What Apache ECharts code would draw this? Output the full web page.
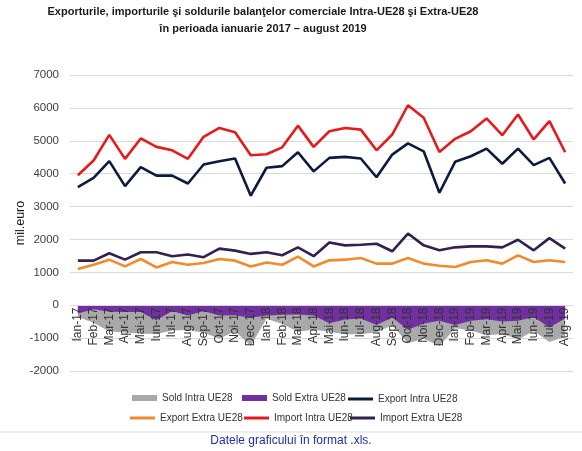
<!DOCTYPE html>
<html>
<head>
<meta charset="utf-8">
<script src="https://cdn.jsdelivr.net/npm/echarts@6/dist/echarts.min.js"></script>
<style>
  html, body { margin: 0; padding: 0; background: #fff; }
  #chart { width: 582px; height: 451px; }
</style>
</head>
<body>
<div id="chart"></div>
<script>
  // luni (etichete axa X)
  const months = ['Ian-17', 'Feb-17', 'Mar-17', 'Apr-17', 'Mai-17', 'Iun-17', 'Iul-17', 'Aug-17', 'Sep-17', 'Oct-17', 'Noi-17', 'Dec-17',
    'Ian-18', 'Feb-18', 'Mar-18', 'Apr-18', 'Mai-18', 'Iun-18', 'Iul-18', 'Aug-18', 'Sep-18', 'Oct-18', 'Noi-18', 'Dec-18',
    'Ian-19', 'Feb-19', 'Mar-19', 'Apr-19', 'Mai-19', 'Iun-19', 'Iul-19', 'Aug-19']

  const soldIntra = [-360, -530, -800, -830, -870, -875, -770, -750, -840, -1010, -800, -1230,
    -410, -570, -810, -745, -810, -880, -880, -820, -610, -1160, -1020, -1240,
    -700, -760, -920, -870, -1040, -780, -1120, -950]
  const soldExtra = [-255, -125, -195, -205, -205, -460, -175, -310, -175, -315, -305, -380,
    -310, -290, -280, -310, -545, -435, -405, -605, -375, -745, -555, -470,
    -600, -475, -425, -495, -475, -355, -675, -405]
  const exportIntra = [3590, 3870, 4380, 3620, 4200, 3940, 3940, 3700, 4280, 4380, 4460, 3330,
    4180, 4230, 4650, 4070, 4480, 4510, 4460, 3890, 4580, 4920, 4680, 3420,
    4360, 4530, 4760, 4300, 4760, 4260, 4480, 3700]
  const exportExtra = [1100, 1230, 1385, 1180, 1405, 1150, 1315, 1230, 1285, 1405, 1355, 1180,
    1300, 1230, 1480, 1180, 1365, 1385, 1435, 1265, 1265, 1435, 1265, 1200,
    1160, 1315, 1365, 1265, 1515, 1315, 1365, 1315]
  const importIntra = [3950, 4400, 5180, 4450, 5070, 4815, 4710, 4450, 5120, 5390, 5260, 4560,
    4590, 4800, 5460, 4815, 5290, 5390, 5340, 4710, 5190, 6080, 5700, 4660,
    5060, 5290, 5680, 5170, 5800, 5040, 5600, 4650]
  const importExtra = [1355, 1355, 1580, 1385, 1610, 1610, 1490, 1540, 1460, 1720, 1660, 1560,
    1610, 1520, 1760, 1490, 1910, 1820, 1840, 1870, 1640, 2180, 1820, 1670,
    1760, 1790, 1790, 1760, 1990, 1670, 2040, 1720]

  const font = 'Liberation Sans, Arial, sans-serif'
  const chart = echarts.init(document.getElementById('chart'))

  function lineSeries(name, data, color) {
    return {
      name: name,
      type: 'line',
      data: data,
      showSymbol: false,
      symbol: 'none',
      lineStyle: { color: color, width: 2.6 },
      itemStyle: { color: color },
      z: 3
    }
  }
  function areaSeries(name, data, color) {
    return {
      name: name,
      type: 'line',
      data: data,
      showSymbol: false,
      symbol: 'none',
      lineStyle: { width: 0 },
      itemStyle: { color: color },
      areaStyle: { color: color, opacity: 1 },
      z: 2
    }
  }
  function legendAt(name, left, top, isArea) {
    return {
      data: [name],
      left: left,
      top: top,
      icon: 'rect',
      itemWidth: 25,
      itemHeight: isArea ? 6 : 3,
      itemGap: 0,
      padding: 0,
      selectedMode: false,
      textStyle: { fontFamily: font, fontSize: 10, color: '#333' }
    }
  }

  chart.setOption({
    animation: false,
    title: {
      text: 'Exporturile, importurile şi soldurile balanţelor comerciale Intra-UE28 şi Extra-UE28\nîn perioada ianuarie 2017 – august 2019',
      left: 263,
      textAlign: 'center',
      top: 3,
      padding: 0,
      textStyle: { fontFamily: font, fontSize: 11, fontWeight: 'bold', color: '#1a1a1a', lineHeight: 17 }
    },
    legend: [
      legendAt('Sold Intra UE28', 132, 393, true),
      legendAt('Sold Extra UE28', 242, 393, true),
      legendAt('Export Intra UE28', 348, 394, false),
      legendAt('Export Extra UE28', 130, 413, false),
      legendAt('Import Intra UE28', 244, 413, false),
      legendAt('Import Extra UE28', 350, 413, false)
    ],
    grid: { left: 70, right: 9, top: 75, bottom: 80 },
    xAxis: {
      type: 'category',
      data: months,
      boundaryGap: true,
      offset: -65.5,
      z: 5,
      axisLine: { onZero: false, lineStyle: { color: '#d9d9d9' } },
      axisTick: { show: false },
      axisLabel: { rotate: 90, interval: 0, fontFamily: font, fontSize: 12, color: '#333', margin: 2 }
    },
    yAxis: {
      type: 'value',
      min: -2000,
      max: 7000,
      interval: 1000,
      name: 'mil.euro',
      nameLocation: 'middle',
      nameGap: 43,
      nameMoveOverlap: false,
      nameTextStyle: { fontFamily: font, fontSize: 12.5, color: '#1a1a1a' },
      axisLine: { show: false },
      axisTick: { show: false },
      axisLabel: { fontFamily: font, fontSize: 11.5, color: '#404040', margin: 11, formatter: function (v) { return String(v) } },
      splitLine: { lineStyle: { color: '#d9d9d9', width: 1 } }
    },
    series: [
      areaSeries('Sold Intra UE28', soldIntra, '#a9a9a9'),
      areaSeries('Sold Extra UE28', soldExtra, '#7030a0'),
      lineSeries('Export Intra UE28', exportIntra, '#0c1a3d'),
      lineSeries('Export Extra UE28', exportExtra, '#f08a2c'),
      lineSeries('Import Intra UE28', importIntra, '#e41a1c'),
      lineSeries('Import Extra UE28', importExtra, '#33204f')
    ],
    graphic: [
      {
        type: 'line',
        shape: { x1: 0, y1: 432, x2: 582, y2: 432 },
        style: { stroke: '#dddddd', lineWidth: 1 }
      },
      {
        type: 'text',
        left: 'center',
        top: 435,
        style: { text: 'Datele graficului în format .xls.', fill: '#1f2fa6', font: '12px ' + font }
      }
    ]
  })
</script>
</body>
</html>
